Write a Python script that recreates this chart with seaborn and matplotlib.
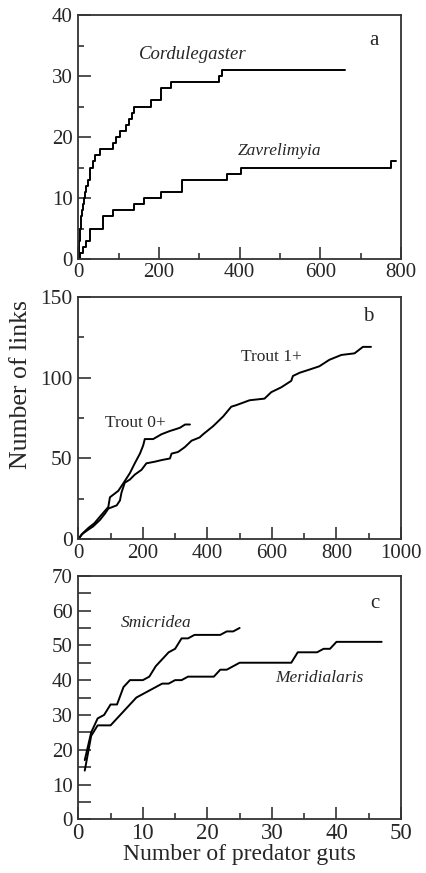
import numpy as np
import pandas as pd
import matplotlib
matplotlib.use("Agg")
import matplotlib.pyplot as plt
from matplotlib.ticker import MultipleLocator
import seaborn as sns

sns.set_theme(style="ticks")
plt.rcParams['font.family'] = ['Liberation Serif', 'DejaVu Serif']
plt.rcParams['mathtext.fontset'] = 'stix'

# ---- Panel a (cumulative links vs guts, step curves)
cord_x = [0, 1, 2, 3, 5, 7, 9, 11, 14, 17, 20, 24, 28, 36, 42, 54, 87, 93, 103, 119, 125, 132, 139, 179, 206, 231, 349, 357, 660]
cord_y = [0, 1, 3, 4, 5, 7, 8, 9, 10, 11, 12, 13, 15, 16, 17, 18, 19, 20, 21, 22, 23, 24, 25, 26, 28, 29, 30, 31, 31]
zav_x = [0, 4, 11, 19, 30, 60, 87, 138, 164, 206, 257, 368, 403, 775, 788]
zav_y = [0, 1, 2, 3, 5, 7, 8, 9, 10, 11, 13, 14, 15, 16, 16]

# ---- Panel b
t0_x = [0, 15, 31, 50, 67, 80, 93, 98, 111, 124, 134, 144, 160, 175, 191, 201, 206, 232, 258, 284, 300, 315, 331, 346]
t0_y = [0, 4, 7, 10, 14, 17, 20, 26, 28, 30, 33, 36, 41, 47, 53, 58, 62, 62, 65, 67, 68, 69, 71, 71]
t1_x = [0, 10, 31, 46, 67, 83, 93, 119, 129, 134, 144, 160, 175, 196, 211, 237, 258, 284, 289, 309, 330, 351, 376,
        387, 418, 449, 474, 490, 531, 577, 598, 629, 660, 665, 686, 717, 747, 778, 815, 856, 882, 907]
t1_y = [0, 3, 6, 8, 12, 16, 19, 21, 24, 29, 35, 37, 40, 43, 47, 48, 49, 50, 53, 54, 57, 61, 63,
        65, 70, 76, 82, 83, 86, 87, 91, 94, 98, 101, 103, 105, 107, 111, 114, 115, 119, 119]

# ---- Panel c
smic_x = list(range(1, 26))
smic_y = [17, 25, 29, 30, 33, 33, 38, 40, 40, 40, 41, 44, 46, 48, 49, 52, 52, 53, 53, 53, 53, 53, 54, 54, 55]
meri_x = list(range(1, 48))
meri_y = [14, 24, 27, 27, 27, 29, 31, 33, 35, 36, 37, 38, 39, 39, 40, 40, 41, 41, 41, 41, 41, 43, 43, 44, 45,
          45, 45, 45, 45, 45, 45, 45, 45, 48, 48, 48, 48, 49, 49, 51, 51, 51, 51, 51, 51, 51, 51]

fig = plt.figure(figsize=(4.26, 8.73), dpi=100)
L, W = 0.1838, 0.7575
ax_a = fig.add_axes([L, 0.7033, W, 0.2795])
ax_b = fig.add_axes([L, 0.3822, W, 0.2779])
ax_c = fig.add_axes([L, 0.0615, W, 0.2790])

lw = 1.4
kw = dict(color='black', linewidth=lw, estimator=None, legend=False)

sns.lineplot(x=cord_x, y=cord_y, ax=ax_a, drawstyle='steps-post', **kw)
sns.lineplot(x=zav_x, y=zav_y, ax=ax_a, drawstyle='steps-post', **kw)
sns.lineplot(x=t0_x, y=t0_y, ax=ax_b, **kw)
sns.lineplot(x=t1_x, y=t1_y, ax=ax_b, **kw)
sns.lineplot(x=smic_x, y=smic_y, ax=ax_c, **kw)
sns.lineplot(x=meri_x, y=meri_y, ax=ax_c, **kw)

ax_a.set_xlim(0, 800); ax_a.set_ylim(0, 40)
ax_a.xaxis.set_major_locator(MultipleLocator(200)); ax_a.xaxis.set_minor_locator(MultipleLocator(100))
ax_a.yaxis.set_major_locator(MultipleLocator(10)); ax_a.yaxis.set_minor_locator(MultipleLocator(5))

ax_b.set_xlim(0, 1000); ax_b.set_ylim(0, 150)
ax_b.xaxis.set_major_locator(MultipleLocator(200)); ax_b.xaxis.set_minor_locator(MultipleLocator(100))
ax_b.yaxis.set_major_locator(MultipleLocator(50)); ax_b.yaxis.set_minor_locator(MultipleLocator(25))

ax_c.set_xlim(0, 50); ax_c.set_ylim(0, 70)
ax_c.xaxis.set_major_locator(MultipleLocator(10)); ax_c.xaxis.set_minor_locator(MultipleLocator(5))
ax_c.yaxis.set_major_locator(MultipleLocator(10)); ax_c.yaxis.set_minor_locator(MultipleLocator(5))

for ax in (ax_a, ax_b, ax_c):
    ax.set_xlabel(''); ax.set_ylabel('')
    for s in ax.spines.values():
        s.set_color('#333333'); s.set_linewidth(1.3)
    ax.tick_params(which='major', direction='in', length=9, width=1.1, color='#222222',
                   labelsize=15, top=False, right=False)
    ax.tick_params(axis='x', which='major', pad=3)
    ax.tick_params(axis='y', which='major', pad=4)
    ax.tick_params(which='minor', direction='in', length=4.5, width=1.1, color='#222222',
                   top=False, right=False)

# panel c: all y ticks long
ax_c.tick_params(axis='y', which='minor', length=9)
ax_c.tick_params(axis='x', which='major', labelsize=16.5)
ax_b.tick_params(axis='y', which='major', labelsize=15.5)

fs_lab = 12.5
ax_a.text(283, 33.5, 'Cordulegaster', style='italic', fontsize=13.5, ha='center', va='center')
ax_a.text(500, 17.7, 'Zavrelimyia', style='italic', fontsize=fs_lab, ha='center', va='center')
ax_a.text(733, 35.9, 'a', fontsize=15, ha='center', va='center')

ax_b.text(599, 113, 'Trout 1+', fontsize=fs_lab, ha='center', va='center')
ax_b.text(176, 72.2, 'Trout 0+', fontsize=fs_lab, ha='center', va='center')
ax_b.text(899, 137.7, 'b', fontsize=15, ha='center', va='center')

ax_c.text(12.0, 56.4, 'Smicridea', style='italic', fontsize=fs_lab, ha='center', va='center')
ax_c.text(37.4, 40.6, 'Meridialaris', style='italic', fontsize=fs_lab, ha='center', va='center')
ax_c.text(46, 62.1, 'c', fontsize=15, ha='center', va='center')

ax_b.set_ylabel('Number of links', fontsize=18.5)
ax_b.yaxis.set_label_coords(-0.145, 0.64)
ax_c.set_xlabel('Number of predator guts', fontsize=17, labelpad=0)

fig.savefig('out.png', dpi=100)
